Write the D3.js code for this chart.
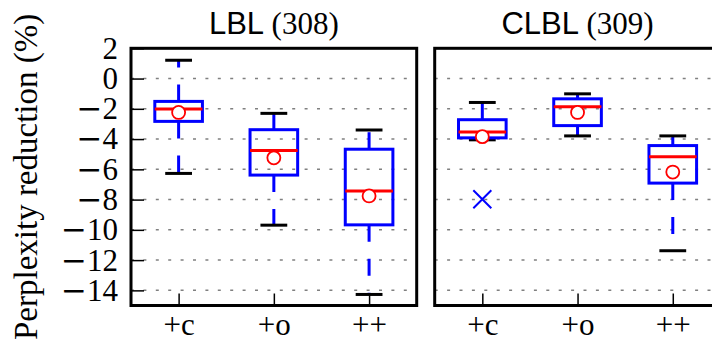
<!DOCTYPE html>
<html>
<head>
<meta charset="utf-8">
<script src="https://cdn.jsdelivr.net/npm/d3@7"></script>
<style>
  body { margin: 0; background: #fff; }
  svg { display: block; }
</style>
</head>
<body>
<div id="chart"></div>
<script>
// categories / panels
var categories = ["+c", "+o", "++"];
var panelNames = ["LBL", "CLBL"];
var panelCounts = ["(308)", "(309)"];
var yTicks = [2, 0, -2, -4, -6, -8, -10, -12, -14];

// LBL (308) box stats
var lblLow  = [-6.27, -9.69, -14.27];
var lblQ1   = [-2.83, -6.38, -9.67];
var lblMed  = [-2.01, -4.76, -7.43];
var lblQ3   = [-1.51, -3.38, -4.67];
var lblHigh = [1.21, -2.30, -3.40];
var lblMean = [-2.24, -5.24, -7.76];
var lblFliers = [[], [], []];

// CLBL (309) box stats
var clblLow  = [-4.05, -3.79, -11.38];
var clblQ1   = [-3.92, -3.11, -6.91];
var clblMed  = [-3.53, -1.86, -5.17];
var clblQ3   = [-2.72, -1.34, -4.43];
var clblHigh = [-1.58, -1.01, -3.79];
var clblMean = [-3.84, -2.24, -6.18];
var clblFliers = [[-7.98], [], []];

function buildStats(low, q1, med, q3, high, mean, fliers) {
  return categories.map(function(c, i) {
    return {cat: i + 1, low: low[i], q1: q1[i], med: med[i], q3: q3[i],
            high: high[i], mean: mean[i], fliers: fliers[i]};
  });
}

var panels = [
  {name: panelNames[0], count: panelCounts[0], left: 131, right: 416.7, yLabels: true,
   stats: buildStats(lblLow, lblQ1, lblMed, lblQ3, lblHigh, lblMean, lblFliers)},
  {name: panelNames[1], count: panelCounts[1], left: 434.7, right: 720.4, yLabels: false,
   stats: buildStats(clblLow, clblQ1, clblMed, clblQ3, clblHigh, clblMean, clblFliers)}
];

var width = 712, height = 345;
var plotTop = 48.3, plotBottom = 305.5;
var serif = "'Liberation Serif', 'Times New Roman', serif";
var sans = "'Liberation Sans', Arial, sans-serif";

var svg = d3.select("#chart").append("svg")
    .attr("width", width)
    .attr("height", height);

var y = d3.scaleLinear().domain([-15, 2]).range([plotBottom, plotTop]);

// y axis label
svg.append("text")
    .attr("transform", "translate(37," + ((plotTop + plotBottom) / 2) + ") rotate(-90)")
    .attr("text-anchor", "middle")
    .style("font-family", serif)
    .style("font-size", "33px")
    .text("Perplexity reduction (%)");

panels.forEach(function(p) {
  var x = d3.scaleLinear().domain([0.5, 3.5]).range([p.left, p.right]);
  var unit = x(1) - x(0);
  var g = svg.append("g");

  // dotted grid
  g.selectAll(".grid").data(yTicks).enter().append("line")
      .attr("x1", p.left).attr("x2", p.right)
      .attr("y1", function(d) { return y(d); })
      .attr("y2", function(d) { return y(d); })
      .attr("stroke", "#808080")
      .attr("stroke-width", 1.5)
      .attr("stroke-dasharray", "3,9.4");

  // y ticks (left panel only shows them)
  if (p.yLabels) {
    var yAxis = g.append("g")
        .attr("transform", "translate(" + p.left + ",0)")
        .call(d3.axisLeft(y).tickValues(yTicks).tickSize(-13).tickPadding(13));
    yAxis.select(".domain").remove();
    yAxis.selectAll("line").attr("stroke", "#000").attr("stroke-width", 1.5);
    yAxis.selectAll("text")
        .style("font-family", serif)
        .style("font-size", "31px")
        .attr("fill", "#000")
        .each(function(d) {
          // wide math-style minus like the original
          var s = d3.select(this).text(null);
          if (d < 0) s.append("tspan").style("font-family", "'DejaVu Serif', serif").text("\u2212");
          s.append("tspan").text(Math.abs(d));
        });
  }

  // x ticks
  var xAxis = g.append("g")
      .attr("transform", "translate(0," + plotBottom + ")")
      .call(d3.axisBottom(x).tickValues([1, 2, 3]).tickSize(-12).tickPadding(7.5)
            .tickFormat(function(d) { return categories[d - 1]; }));
  xAxis.select(".domain").remove();
  xAxis.selectAll("line").attr("stroke", "#000").attr("stroke-width", 1.5);
  xAxis.selectAll("text")
      .style("font-family", serif)
      .style("font-size", "31px")
      .attr("fill", "#000");

  var boxW = 0.5 * unit, capW = 0.25 * unit;

  // whiskers (dashed blue, drawn from box edge outward)
  g.selectAll(".whiskHi").data(p.stats).enter().append("line")
      .attr("x1", function(d) { return x(d.cat); })
      .attr("x2", function(d) { return x(d.cat); })
      .attr("y1", function(d) { return y(d.q3); })
      .attr("y2", function(d) { return y(d.high); })
      .attr("stroke", "#0000ff").attr("stroke-width", 3)
      .attr("stroke-dasharray", "17,17");
  g.selectAll(".whiskLo").data(p.stats).enter().append("line")
      .attr("x1", function(d) { return x(d.cat); })
      .attr("x2", function(d) { return x(d.cat); })
      .attr("y1", function(d) { return y(d.q1); })
      .attr("y2", function(d) { return y(d.low); })
      .attr("stroke", "#0000ff").attr("stroke-width", 3)
      .attr("stroke-dasharray", "17,17");

  // caps
  ["high", "low"].forEach(function(k) {
    g.selectAll(".cap-" + k).data(p.stats).enter().append("line")
        .attr("x1", function(d) { return x(d.cat) - capW / 2; })
        .attr("x2", function(d) { return x(d.cat) + capW / 2; })
        .attr("y1", function(d) { return y(d[k]); })
        .attr("y2", function(d) { return y(d[k]); })
        .attr("stroke", "#000").attr("stroke-width", 3)
        .attr("stroke-linecap", "square");
  });

  // boxes
  g.selectAll(".box").data(p.stats).enter().append("rect")
      .attr("x", function(d) { return x(d.cat) - boxW / 2; })
      .attr("y", function(d) { return y(d.q3); })
      .attr("width", boxW)
      .attr("height", function(d) { return y(d.q1) - y(d.q3); })
      .attr("fill", "none")
      .attr("stroke", "#0000ff").attr("stroke-width", 3);

  // medians
  g.selectAll(".med").data(p.stats).enter().append("line")
      .attr("x1", function(d) { return x(d.cat) - boxW / 2; })
      .attr("x2", function(d) { return x(d.cat) + boxW / 2; })
      .attr("y1", function(d) { return y(d.med); })
      .attr("y2", function(d) { return y(d.med); })
      .attr("stroke", "#ff0000").attr("stroke-width", 3);

  // fliers
  var fl = [];
  p.stats.forEach(function(d) {
    d.fliers.forEach(function(v) { fl.push({cat: d.cat, v: v}); });
  });
  g.selectAll(".flier").data(fl).enter().append("path")
      .attr("transform", function(d) { return "translate(" + x(d.cat) + "," + y(d.v) + ")"; })
      .attr("d", "M-9,-9L9,9M-9,9L9,-9")
      .attr("stroke", "#0000ff").attr("stroke-width", 2)
      .attr("fill", "none");

  // means
  g.selectAll(".mean").data(p.stats).enter().append("circle")
      .attr("cx", function(d) { return x(d.cat); })
      .attr("cy", function(d) { return y(d.mean); })
      .attr("r", 6.5)
      .attr("fill", "#fff")
      .attr("stroke", "#ff0000").attr("stroke-width", 1.8);

  // frame
  g.append("rect")
      .attr("x", p.left).attr("y", plotTop)
      .attr("width", p.right - p.left).attr("height", plotBottom - plotTop)
      .attr("fill", "none")
      .attr("stroke", "#000").attr("stroke-width", 3);

  // title
  var t = svg.append("text")
      .attr("x", (p.left + p.right) / 2)
      .attr("y", 33.5)
      .attr("text-anchor", "middle")
      .style("font-size", "31px");
  t.append("tspan").style("font-family", sans).text(p.name + " ");
  t.append("tspan").style("font-family", serif).text(p.count);
});
</script>
</body>
</html>
